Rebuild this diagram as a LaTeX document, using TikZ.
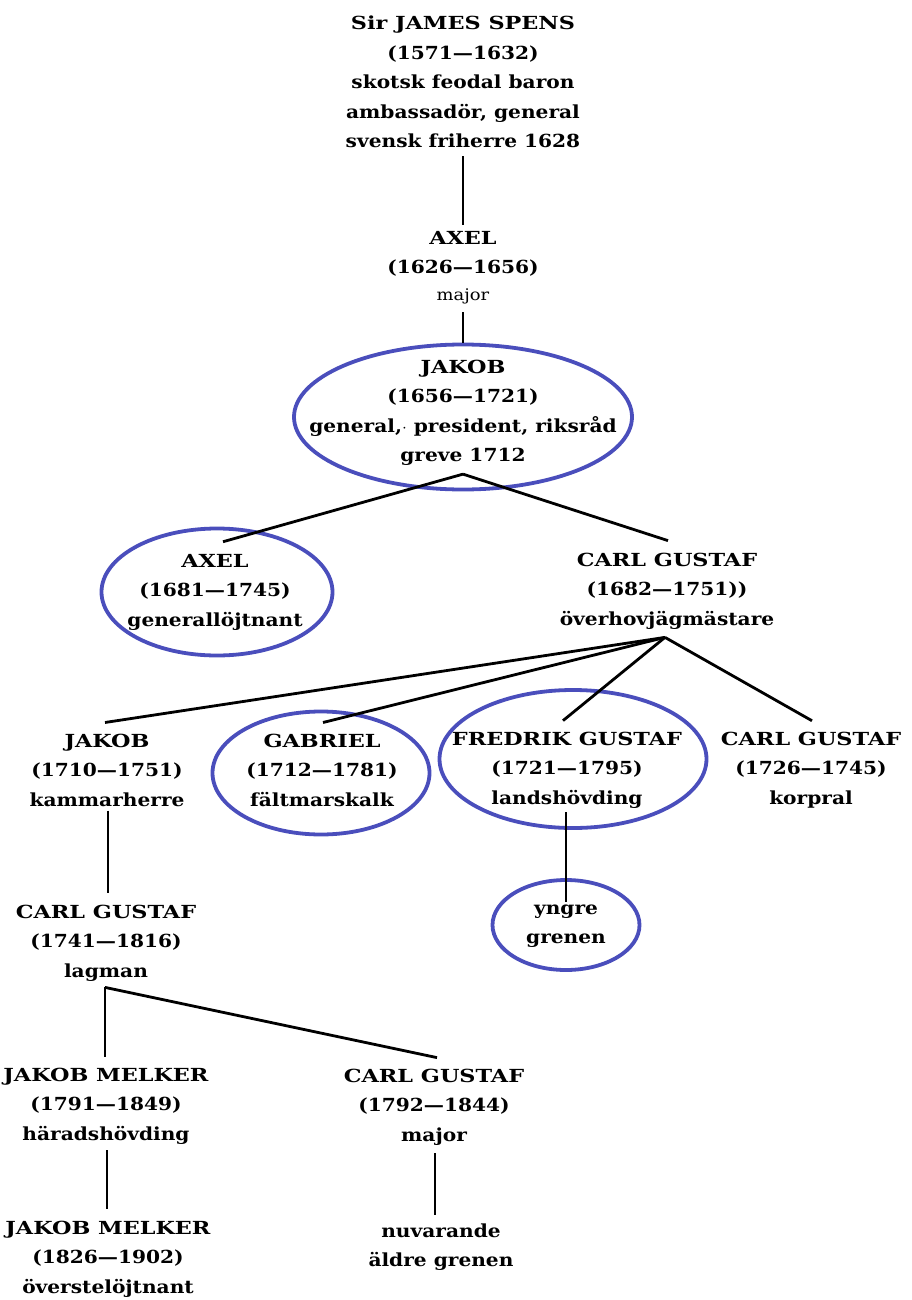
\documentclass[tikz,border=0pt]{standalone}
\usepackage{fontspec}
\setmainfont{DejaVu Serif}[FakeStretch=1.12]
\newfontfamily\namefont{DejaVu Serif}[FakeStretch=1.24]
\usetikzlibrary{shapes.geometric}
\definecolor{ringblue}{RGB}{74,78,188}
\newcommand{\nm}[1]{{\namefont\bfseries #1}}
\begin{document}
\begin{tikzpicture}[x=1pt,y=-1pt,
  person/.style={align=center,inner sep=0pt,font=\fontsize{18}{29.5}\selectfont\bfseries},
  ring/.style={draw=ringblue,line width=3.8pt,ellipse,inner sep=0pt},
  link/.style={draw=black,line width=2.8pt}]
\useasboundingbox (0,0) rectangle (912,1300);
% ellipses
\node[ring,minimum width=338pt,minimum height=145pt] (ejakob) at (463,417) {};
\node[ring,minimum width=231pt,minimum height=127pt] (eaxel) at (217,592) {};
\node[ring,minimum width=217pt,minimum height=123pt] (egabriel) at (321,773) {};
\node[ring,minimum width=267pt,minimum height=138pt] (efredrik) at (573,759) {};
\node[ring,minimum width=147pt,minimum height=90pt] (eyngre) at (566,925) {};
% people
\node[person] (spens) at (463,82) {\nm{Sir JAMES SPENS}\\(1571—1632)\\skotsk feodal baron\\ambassadör, general\\svensk friherre 1628};
\node[person,anchor=north] (axelA) at (463,231) {\nm{AXEL}\\(1626—1656)\\[-3pt]{\fontsize{16}{18}\mdseries\selectfont major}};
\node[person] (jakobA) at (463,413) {\nm{JAKOB}\\(1656—1721)\\general,$\cdot$ president, riksråd\\greve 1712};
\node[person] (axelB) at (215,592) {\nm{AXEL}\\(1681—1745)\\generallöjtnant};
\node[person] (cgA) at (667,591) {\nm{CARL GUSTAF}\\(1682—1751))\\överhovjägmästare};
\node[person] (jakobB) at (107,770) {\nm{JAKOB}\\(1710—1751)\\kammarherre};
\node[person] (gabriel) at (322,770) {\nm{GABRIEL}\\(1712—1781)\\fältmarskalk};
\node[person] (fredrik) at (567,770) {\nm{FREDRIK GUSTAF}\\(1721—1795)\\landshövding};
\node[person] (cgB) at (811,770) {\nm{CARL GUSTAF}\\(1726—1745)\\korpral};
\node[person] (yngre) at (566,926) {yngre\\grenen};
\node[person] (cgC) at (106,943) {\nm{CARL GUSTAF}\\(1741—1816)\\lagman};
\node[person] (jmA) at (106,1106) {\nm{JAKOB MELKER}\\(1791—1849)\\häradshövding};
\node[person] (cgD) at (434,1107) {\nm{CARL GUSTAF}\\(1792—1844)\\major};
\node[person] (jmB) at (108,1259) {\nm{JAKOB MELKER}\\(1826—1902)\\överstelöjtnant};
\node[person] (nuv) at (441,1247) {nuvarande\\äldre grenen};
% junctions
\coordinate (jJ) at ([yshift=-8pt]jakobA.south);
\coordinate (jC) at ([xshift=-2pt,yshift=-8pt]cgA.south);
\coordinate (jL) at ([xshift=-1pt,yshift=-6pt]cgC.south);
% connectors
\draw[link] ([yshift=-8pt]spens.south) -- ([yshift=6pt]axelA.north);
\draw[link] ([yshift=-8pt]axelA.south) -- (ejakob.north);
\draw[link] (jJ) -- ([xshift=8pt,yshift=12pt]axelB.north);
\draw[link] (jJ) -- ([xshift=1pt,yshift=12pt]cgA.north);
\draw[link] (jC) -- ([xshift=-2pt,yshift=11pt]jakobB.north);
\draw[link] (jC) -- ([xshift=1pt,yshift=11pt]gabriel.north);
\draw[link] (jC) -- ([xshift=-4pt,yshift=11pt]fredrik.north);
\draw[link] (jC) -- ([xshift=1pt,yshift=11pt]cgB.north);
\draw[link] ([xshift=1pt,yshift=-4pt]jakobB.south) -- ([xshift=2pt,yshift=12pt]cgC.north);
\draw[link] ([xshift=-1pt,yshift=-4pt]fredrik.south) -- ([yshift=2pt]yngre.north);
\draw[link] (jL) -- ([xshift=-1pt,yshift=11pt]jmA.north);
\draw[link] (jL) -- ([xshift=3pt,yshift=11pt]cgD.north);
\draw[link] ([xshift=1pt,yshift=-6pt]jmA.south) -- ([xshift=-1pt,yshift=12pt]jmB.north);
\draw[link] ([xshift=1pt,yshift=-8pt]cgD.south) -- ([xshift=-6pt,yshift=8pt]nuv.north);
\end{tikzpicture}
\end{document}
